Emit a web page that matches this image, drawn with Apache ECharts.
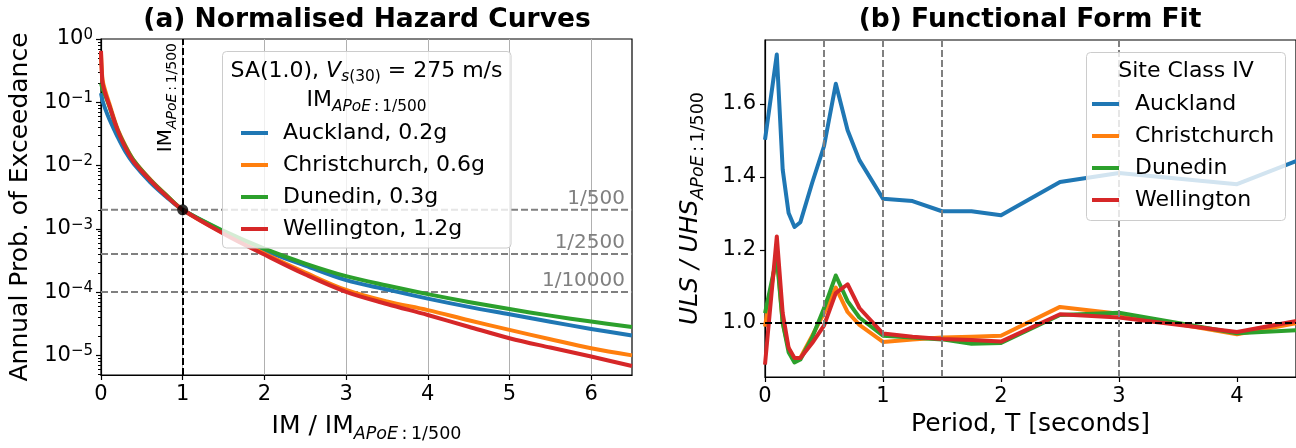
<!DOCTYPE html>
<html>
<head>
<meta charset="utf-8"/>
</head>
<body style="margin: 0; overflow: hidden">
<div id="container" style="width: 1296px; height: 448px"></div>
<script src="https://cdn.jsdelivr.net/npm/echarts@6/dist/echarts.min.js"></script>
<script>
var FONT = 'DejaVu Sans';
var COLORS = ['#1f77b4', '#ff7f0e', '#2ca02c', '#d62728'];

// ---- (a) normalised hazard curves ----
var imRatio = [0, 0.01, 0.02, 0.05, 0.1, 0.2, 0.3, 0.4, 0.6, 0.8, 1.0, 1.5, 2, 2.5, 3, 3.5, 4, 4.5, 5, 5.5, 6, 6.5];
var hazAuckland = [0.14, 0.12, 0.105, 0.08, 0.055, 0.029, 0.0165, 0.0107, 0.0055, 0.0032, 0.002, 9.0e-4, 4.57e-4, 2.63e-4, 1.55e-4, 1.1e-4, 7.9e-5, 5.85e-5, 4.46e-5, 3.4e-5, 2.62e-5, 2.06e-5];
var hazChristchurch = [0.6, 0.32, 0.22, 0.155, 0.097, 0.039, 0.0205, 0.0122, 0.0061, 0.0034, 0.002, 8.6e-4, 4.07e-4, 2.04e-4, 1.08e-4, 7.1e-5, 5.2e-5, 3.6e-5, 2.53e-5, 1.8e-5, 1.3e-5, 1.0e-5];
var hazDunedin = [0.2, 0.18, 0.16, 0.13, 0.088, 0.037, 0.0198, 0.012, 0.006, 0.0034, 0.002, 9.3e-4, 4.86e-4, 2.83e-4, 1.79e-4, 1.27e-4, 9.3e-5, 7.0e-5, 5.4e-5, 4.25e-5, 3.43e-5, 2.82e-5];
var hazWellington = [0.65, 0.3, 0.2, 0.14, 0.09, 0.037, 0.019, 0.0115, 0.0059, 0.0033, 0.002, 8.4e-4, 3.92e-4, 1.9e-4, 1.01e-4, 6.5e-5, 4.35e-5, 2.84e-5, 1.87e-5, 1.33e-5, 9.6e-6, 6.8e-6];
var sitesA = ['Auckland, 0.2g', 'Christchurch, 0.6g', 'Dunedin, 0.3g', 'Wellington, 1.2g'];
var apoeValues = [1 / 500, 1 / 2500, 1 / 10000];
var apoeLabels = ['1/500', '1/2500', '1/10000'];
var xTicksA = [0, 1, 2, 3, 4, 5, 6];
var yTicksA = [1e-5, 1e-4, 1e-3, 1e-2, 1e-1, 1];
var xRangeA = [0, 6.5];
var yMinA = 4.9e-6;

// ---- (b) functional form fit ----
var periods = [0, 0.1, 0.15, 0.2, 0.25, 0.3, 0.4, 0.5, 0.6, 0.7, 0.8, 1.0, 1.25, 1.5, 1.75, 2.0, 2.5, 3.0, 4.0, 5.0];
var ratioAuckland = [1.502, 1.735, 1.420, 1.301, 1.263, 1.276, 1.384, 1.484, 1.655, 1.528, 1.446, 1.340, 1.334, 1.306, 1.306, 1.295, 1.386, 1.411, 1.380, 1.507];
var ratioChristchurch = [0.99, 1.19, 1.0, 0.93, 0.90, 0.905, 0.965, 1.027, 1.097, 1.03, 0.995, 0.948, 0.955, 0.960, 0.962, 0.965, 1.044, 1.025, 0.969, 1.03];
var ratioDunedin = [1.027, 1.18, 1.0, 0.92, 0.892, 0.90, 0.96, 1.04, 1.13, 1.06, 1.015, 0.965, 0.96, 0.955, 0.943, 0.945, 1.022, 1.028, 0.972, 0.988];
var ratioWellington = [0.886, 1.237, 1.027, 0.932, 0.904, 0.904, 0.945, 0.993, 1.082, 1.106, 1.041, 0.971, 0.962, 0.956, 0.953, 0.949, 1.024, 1.015, 0.975, 1.035];
var sitesB = ['Auckland', 'Christchurch', 'Dunedin', 'Wellington'];
var xTicksB = [0, 1, 2, 3, 4];
var yTicksB = [1.0, 1.2, 1.4, 1.6];
var periodMarks = [0.5, 1, 1.5, 3];

function pairs(xs, ys) {
    return xs.map(function (x, i) { return [x, ys[i]]; });
}

// minor ticks of the log axis (2..9 x 10^n)
var minorTicksA = [];
for (var e = -6; e < 0; e++) {
    for (var k = 2; k <= 9; k++) {
        var v = k * Math.pow(10, e);
        if (v >= yMinA && v <= 1) minorTicksA.push(v);
    }
}

var dom = document.getElementById('container');
var myChart = echarts.init(dom, null, {renderer: 'canvas'});

var axisLineStyle = {color: '#000', width: 1.2};
var tickLabel = {fontSize: 21, color: '#000', fontFamily: FONT};

// italic main text (iv), italic subscript (it) and upright subscript (sub)
function subRich(mainSize, size, shift) {
    return {
        iv: {fontStyle: 'italic', fontSize: mainSize, fontFamily: FONT},
        it: {fontStyle: 'italic', fontSize: size, fontFamily: FONT, padding: [shift, 0, 0, 0]},
        sub: {fontSize: size, fontFamily: FONT, padding: [shift, 0, 0, 0]}
    };
}

var hazData = [hazAuckland, hazChristchurch, hazDunedin, hazWellington];
var ratioData = [ratioAuckland, ratioChristchurch, ratioDunedin, ratioWellington];

var series = [];

// APoE reference levels of panel (a), dashed grey with a label at the right end
apoeValues.forEach(function (v, i) {
    series.push({
        type: 'line', xAxisIndex: 0, yAxisIndex: 0, z: 2, silent: true,
        data: [[xRangeA[0], v], [xRangeA[1], v]],
        showSymbol: false,
        lineStyle: {color: '#808080', width: 2, type: [7, 3]},
        color: '#808080',
        endLabel: {
            show: true, formatter: apoeLabels[i], color: '#808080', fontSize: 20, fontFamily: FONT,
            align: 'right', verticalAlign: 'bottom', distance: 0, offset: [-7, -1]
        }
    });
});

sitesA.forEach(function (name, i) {
    series.push({
        name: name, type: 'line', xAxisIndex: 0, yAxisIndex: 0,
        data: pairs(imRatio, hazData[i]),
        showSymbol: false, smooth: 0.35,
        color: COLORS[i],
        lineStyle: {width: 4, color: COLORS[i], join: 'round'},
        z: 3
    });
});

series.push({
    type: 'scatter', xAxisIndex: 0, yAxisIndex: 0,
    data: [[1, 1 / 500]], symbolSize: 11,
    itemStyle: {color: '#000'}, z: 5,
    markLine: {
        silent: true, symbol: 'none', animation: false,
        data: [{
            xAxis: 1,
            lineStyle: {color: '#000', width: 2, type: [7, 3]},
            label: {
                show: true, position: 'insideEndTop',
                formatter: 'IM{it|APoE}{sub|\u2009:\u20091/500}',
                color: '#000', fontSize: 20, fontFamily: FONT, distance: [4, 3],
                rich: subRich(20, 14, 14)
            }
        }]
    }
});

// panel (b)
series.push({
    type: 'line', xAxisIndex: 1, yAxisIndex: 2, data: [], z: 1,
    markLine: {
        silent: true, symbol: 'none', animation: false,
        data: [{yAxis: 1.0, lineStyle: {color: '#000', width: 2, type: [7, 3]}, label: {show: false}}]
    }
});

sitesB.forEach(function (name, i) {
    series.push({
        name: name, type: 'line', xAxisIndex: 1, yAxisIndex: 2,
        data: pairs(periods, ratioData[i]),
        showSymbol: false,
        color: COLORS[i],
        lineStyle: {width: 4, color: COLORS[i], join: 'round'},
        z: 3
    });
});

series.push({
    type: 'line', xAxisIndex: 1, yAxisIndex: 2, data: [], z: 4,
    markLine: {
        silent: true, symbol: 'none', animation: false,
        data: periodMarks.map(function (p) {
            return {xAxis: p, lineStyle: {color: '#808080', width: 2, type: [7, 3]}, label: {show: false}};
        })
    }
});

var legendText = {fontSize: 22, lineHeight: 26, color: '#000', fontFamily: FONT};

var option = {
    animation: false,
    textStyle: {fontFamily: FONT},
    grid: [
        {left: 101, top: 39, width: 531, height: 338, show: true, borderColor: '#000', borderWidth: 1.2, backgroundColor: 'transparent'},
        {left: 765, top: 40, width: 531, height: 337, show: true, borderColor: '#000', borderWidth: 1.2, backgroundColor: 'transparent'}
    ],
    xAxis: [
        {
            gridIndex: 0, type: 'value', min: xRangeA[0], max: xRangeA[1],
            axisLine: {show: true, onZero: false, lineStyle: axisLineStyle},
            axisTick: {show: true, length: 5, lineStyle: axisLineStyle, customValues: xTicksA},
            axisLabel: Object.assign({customValues: xTicksA, margin: 9}, tickLabel),
            splitLine: {show: true, lineStyle: {color: '#b0b0b0', width: 1}},
            name: 'IM / IM{it|APoE}{sub|\u2009:\u20091/500}',
            nameLocation: 'middle', nameGap: 34,
            nameTextStyle: {fontSize: 25, color: '#000', fontFamily: FONT, rich: subRich(25, 17.5, 16)}
        },
        {
            gridIndex: 1, type: 'value', min: 0, max: 4.5,
            axisLine: {show: true, onZero: false, lineStyle: axisLineStyle},
            axisTick: {show: true, length: 5, lineStyle: axisLineStyle, customValues: xTicksB},
            axisLabel: Object.assign({customValues: xTicksB, margin: 9}, tickLabel),
            splitLine: {show: false},
            name: 'Period, T [seconds]',
            nameLocation: 'middle', nameGap: 34,
            nameTextStyle: {fontSize: 25, color: '#000', fontFamily: FONT}
        }
    ],
    yAxis: [
        {
            gridIndex: 0, type: 'log', logBase: 10, min: yMinA, max: 1, position: 'left',
            axisLine: {show: true, onZero: false, lineStyle: axisLineStyle},
            axisTick: {show: true, length: 5, lineStyle: axisLineStyle, customValues: yTicksA},
            axisLabel: Object.assign({
                customValues: yTicksA, margin: 8,
                formatter: function (v) {
                    var p = Math.round(Math.log10(v));
                    return '10{sup|' + (p < 0 ? '\u2212' + (-p) : p) + '}';
                },
                rich: {sup: {fontSize: 15, fontFamily: FONT, color: '#000', padding: [0, 0, 8, 0]}}
            }, tickLabel),
            splitLine: {show: false},
            name: 'Annual Prob. of Exceedance',
            nameLocation: 'middle', nameGap: 68,
            nameTextStyle: {fontSize: 25, color: '#000', fontFamily: FONT}
        },
        {
            gridIndex: 0, type: 'log', logBase: 10, min: yMinA, max: 1, position: 'left',
            axisLine: {show: false},
            axisTick: {show: true, length: 3, lineStyle: {color: '#000', width: 1}, customValues: minorTicksA},
            axisLabel: {show: false},
            splitLine: {show: false}
        },
        {
            gridIndex: 1, type: 'value', min: 0.852, max: 1.775,
            axisLine: {show: true, onZero: false, lineStyle: axisLineStyle},
            axisTick: {show: true, length: 5, lineStyle: axisLineStyle, customValues: yTicksB},
            axisLabel: Object.assign({
                customValues: yTicksB, margin: 9,
                formatter: function (v) { return v.toFixed(1); }
            }, tickLabel),
            splitLine: {show: false},
            name: '{iv|ULS / UHS}{it|APoE}{sub|\u2009:\u20091/500}',
            nameLocation: 'middle', nameGap: 58,
            nameTextStyle: {fontSize: 25, color: '#000', fontFamily: FONT, rich: subRich(25, 17.5, 16)}
        }
    ],
    legend: [
        {
            data: sitesA, orient: 'vertical', left: 241, top: 120, padding: 0,
            itemWidth: 27, itemHeight: 4, itemGap: 6, icon: 'rect', selectedMode: false,
            textStyle: Object.assign({padding: [0, 0, 0, 10]}, legendText), z: 20
        },
        {
            data: sitesB, orient: 'vertical', left: 1092, top: 91, padding: 0,
            itemWidth: 27, itemHeight: 4, itemGap: 6, icon: 'rect', selectedMode: false,
            textStyle: Object.assign({padding: [0, 0, 0, 11]}, legendText), z: 20
        }
    ],
    graphic: [
        {
            type: 'rect', z: 15, silent: true,
            shape: {x: 222.5, y: 51.5, width: 288.5, height: 196.5, r: 4},
            style: {fill: 'rgba(255,255,255,0.8)', stroke: '#cccccc', lineWidth: 1}
        },
        {
            type: 'rect', z: 15, silent: true,
            shape: {x: 1086.5, y: 52.5, width: 199, height: 168, r: 4},
            style: {fill: 'rgba(255,255,255,0.8)', stroke: '#cccccc', lineWidth: 1}
        },
        {
            type: 'text', z: 21, x: 366.5, y: 71,
            style: {
                text: 'SA(1.0), {iv|V}{it|s}{sub|(30)} = 275 m/s',
                fontSize: 22, fontFamily: FONT, fill: '#000', align: 'center', verticalAlign: 'middle',
                rich: subRich(22, 15.4, 12)
            }
        },
        {
            type: 'text', z: 21, x: 366.5, y: 100,
            style: {
                text: 'IM{it|APoE}{sub|\u2009:\u20091/500}',
                fontSize: 22, fontFamily: FONT, fill: '#000', align: 'center', verticalAlign: 'middle',
                rich: subRich(22, 15.4, 14)
            }
        },
        {
            type: 'text', z: 21, x: 1186, y: 71,
            style: {text: 'Site Class IV', fontSize: 22, fontFamily: FONT, fill: '#000', align: 'center', verticalAlign: 'middle'}
        },
        {
            type: 'text', z: 21, x: 367, y: 20,
            style: {text: '(a) Normalised Hazard Curves', fontSize: 26.5, fontWeight: 'bold', fontFamily: FONT, fill: '#000', align: 'center', verticalAlign: 'middle'}
        },
        {
            type: 'text', z: 21, x: 1030, y: 20,
            style: {text: '(b) Functional Form Fit', fontSize: 26.5, fontWeight: 'bold', fontFamily: FONT, fill: '#000', align: 'center', verticalAlign: 'middle'}
        }
    ],
    series: series
};

myChart.setOption(option);
window.addEventListener('resize', myChart.resize);
</script>
</body>
</html>
